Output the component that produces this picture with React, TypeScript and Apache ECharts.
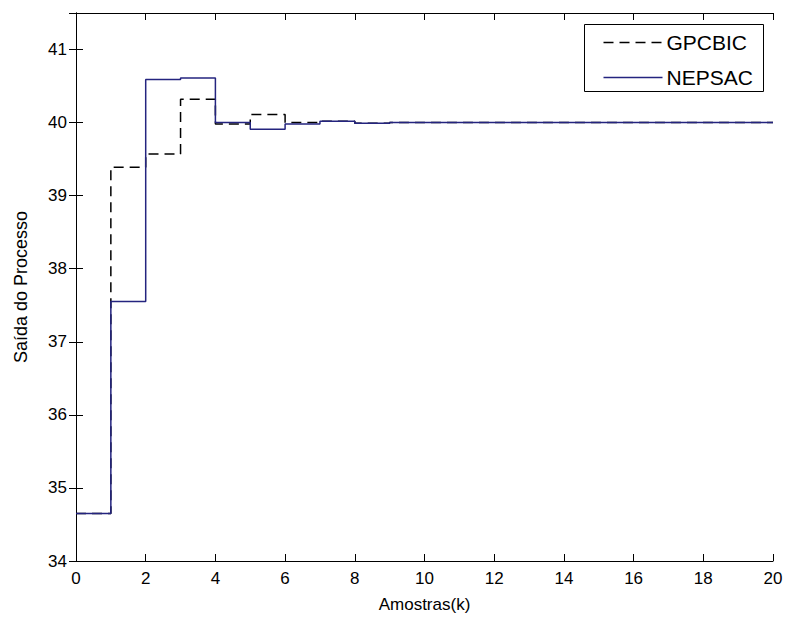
import React, { useEffect, useRef } from "react";
import * as echarts from "echarts";

const samples = [0, 1, 2, 3, 4, 5, 6, 7, 8, 9, 10, 11, 12, 13, 14, 15, 16, 17, 18, 19, 20];
const gpcbic = [34.65, 39.39, 39.57, 40.32, 39.98, 40.11, 40.0, 40.02, 39.99, 40, 40, 40, 40, 40, 40, 40, 40, 40, 40, 40, 40];
const nepsac = [34.65, 37.55, 40.59, 40.61, 40.0, 39.91, 39.98, 40.02, 39.99, 40, 40, 40, 40, 40, 40, 40, 40, 40, 40, 40, 40];
const seriesNames = ["GPCBIC", "NEPSAC"];
const xLabel = "Amostras(k)";
const yLabel = "Saída do Processo";

const FONT = "'Liberation Sans', Arial, sans-serif";

export default function App() {
  const ref = useRef<HTMLDivElement>(null);
  useEffect(() => {
    if (!ref.current) return;
    const chart = echarts.init(ref.current, undefined, { renderer: "svg" });
    const tickStyle = { show: true, inside: true, length: 7, lineStyle: { color: "#000", width: 1 } };
    const axisLine = { show: true, lineStyle: { color: "#000", width: 1 } };
    chart.setOption({
      animation: false,
      backgroundColor: "#fff",
      textStyle: { fontFamily: FONT },
      grid: { left: 76, right: 14, top: 13, bottom: 57, containLabel: false },
      xAxis: [
        {
          type: "value", min: 0, max: 20, interval: 2, position: "bottom",
          axisLine, axisTick: tickStyle, splitLine: { show: false },
          axisLabel: { color: "#000", fontSize: 17, margin: 9, fontFamily: FONT },
          name: xLabel, nameLocation: "middle", nameGap: 35,
          nameTextStyle: { color: "#000", fontSize: 17, fontFamily: FONT },
        },
        {
          type: "value", min: 0, max: 20, interval: 2, position: "top",
          axisLine, axisTick: tickStyle, splitLine: { show: false }, axisLabel: { show: false },
        },
      ],
      yAxis: [
        {
          type: "value", min: 34, max: 41.5, interval: 1, position: "left",
          axisLine, axisTick: tickStyle, splitLine: { show: false },
          axisLabel: {
            color: "#000", fontSize: 17, margin: 9, fontFamily: FONT,
            formatter: (v: number) => (Number.isInteger(v) ? String(v) : ""),
          },
          name: yLabel, nameLocation: "middle", nameGap: 46, nameRotate: 90,
          nameTextStyle: { color: "#000", fontSize: 18, fontFamily: FONT },
        },
        {
          type: "value", min: 34, max: 41.5, interval: 1, position: "right",
          axisLine, axisTick: tickStyle, splitLine: { show: false }, axisLabel: { show: false },
        },
      ],
      series: [
        {
          name: seriesNames[0], type: "line", step: "end", showSymbol: false,
          xAxisIndex: 0, yAxisIndex: 0,
          lineStyle: { color: "#000", width: 1.5, type: [10, 6] },
          data: samples.map((k, i) => [k, gpcbic[i]]),
        },
        {
          name: seriesNames[1], type: "line", step: "end", showSymbol: false,
          xAxisIndex: 0, yAxisIndex: 0,
          lineStyle: { color: "#24247f", width: 1.5 },
          data: samples.map((k, i) => [k, nepsac[i]]),
        },
      ],
      graphic: [
        {
          type: "group", left: 584, top: 24,
          children: [
            { type: "rect", shape: { x: 0, y: 0, width: 179, height: 67 }, style: { fill: "#fff", stroke: "#000", lineWidth: 1 } },
            { type: "line", shape: { x1: 19, y1: 18, x2: 78, y2: 18 }, style: { stroke: "#000", lineWidth: 1.5, lineDash: [10, 6] } },
            { type: "line", shape: { x1: 19, y1: 53, x2: 78, y2: 53 }, style: { stroke: "#24247f", lineWidth: 1.5 } },
            { type: "text", x: 82, y: 18, style: { text: seriesNames[0], fill: "#000", fontSize: 21, fontFamily: FONT, verticalAlign: "middle", align: "left" } },
            { type: "text", x: 82, y: 53, style: { text: seriesNames[1], fill: "#000", fontSize: 21, fontFamily: FONT, verticalAlign: "middle", align: "left" } },
          ],
        },
      ],
    });
    return () => chart.dispose();
  }, []);
  return <div ref={ref} style={{ position: "fixed", left: 0, top: 0, width: 787, height: 618, background: "#fff" }} />;
}
